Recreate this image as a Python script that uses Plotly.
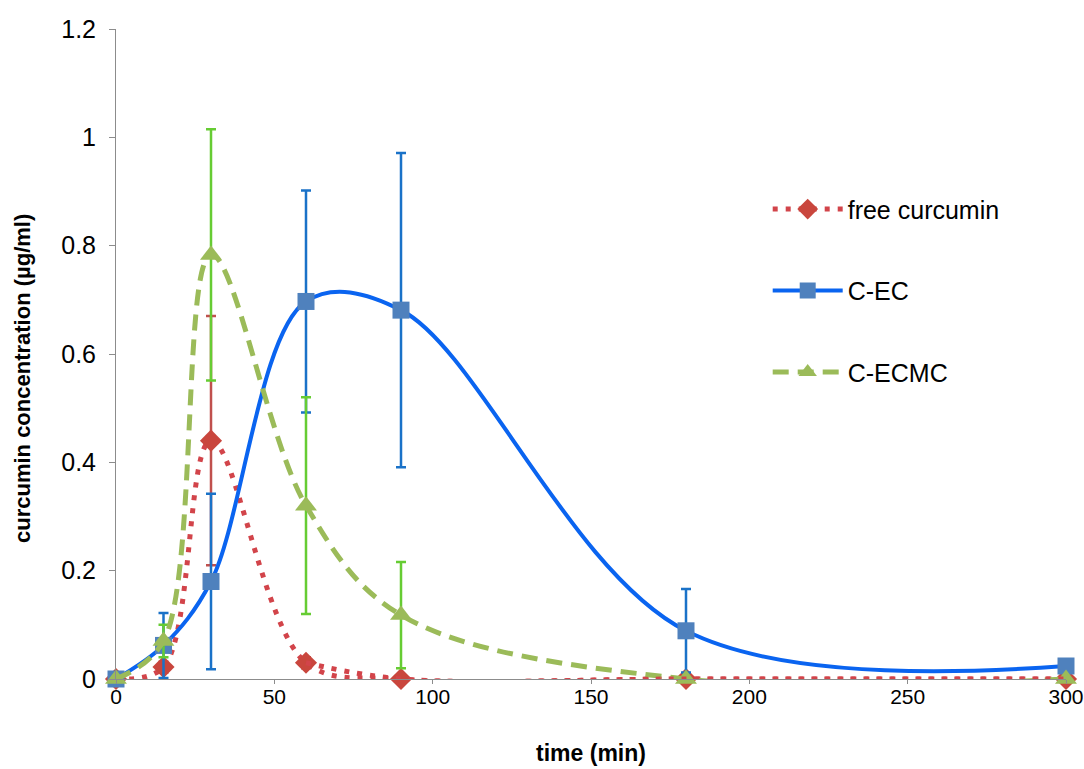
import plotly.graph_objects as go

time_min = [0, 15, 30, 60, 90, 180, 300]

free_curcumin = [0.0, 0.022, 0.44, 0.03, 0.0, 0.0, 0.0]
free_err = [0.0, 0.01, 0.23, 0.01, 0.0, 0.0, 0.0]

c_ec = [0.0, 0.062, 0.18, 0.697, 0.681, 0.089, 0.024]
c_ec_err = [0.0, 0.06, 0.162, 0.205, 0.29, 0.077, 0.005]

c_ecmc = [0.0, 0.07, 0.783, 0.32, 0.118, 0.0, 0.0]
c_ecmc_err = [0.0, 0.03, 0.232, 0.2, 0.098, 0.0, 0.0]

y_ticks = [0, 0.2, 0.4, 0.6, 0.8, 1, 1.2]
y_tick_labels = ["0", "0.2", "0.4", "0.6", "0.8", "1", "1.2"]
x_ticks = [0, 50, 100, 150, 200, 250, 300]

RED_LINE = dict(color="#D2444A", width=5, dash="5px,8px", shape="spline", smoothing=1)

fig = go.Figure()

fig.add_trace(go.Scatter(
    x=time_min, y=free_curcumin, name="free curcumin", mode="lines+markers",
    line=RED_LINE,
    marker=dict(symbol="diamond", size=17, color="#C9463D"),
    error_y=dict(type="data", array=free_err, visible=True, color="#C0504D",
                 thickness=2.5, width=5),
    cliponaxis=False, legendgroup="a",
))
fig.add_trace(go.Scatter(
    x=time_min, y=c_ec, name="C-EC", mode="lines+markers",
    line=dict(color="#0A64F0", width=4, shape="spline", smoothing=1),
    marker=dict(symbol="square", size=17, color="#4F81BD"),
    error_y=dict(type="data", array=c_ec_err, visible=True, color="#1A72C8",
                 thickness=2.5, width=5),
    cliponaxis=False, legendgroup="b",
))
fig.add_trace(go.Scatter(
    x=time_min, y=c_ecmc, name="C-ECMC", mode="lines+markers",
    line=dict(color="#9BBB59", width=5, dash="16px,9px", shape="spline", smoothing=1),
    marker=dict(symbol="triangle-up", size=19, color="#9BBB59"),
    error_y=dict(type="data", array=c_ecmc_err, visible=True, color="#66CC33",
                 thickness=2.5, width=5),
    cliponaxis=False, legendgroup="c",
))
# red dotted line drawn again on top so its dots stay visible along the baseline
fig.add_trace(go.Scatter(
    x=time_min[3:], y=free_curcumin[3:], mode="lines", line=RED_LINE,
    showlegend=False, hoverinfo="skip", cliponaxis=False,
))

tick_family = "Liberation Sans, Arial, sans-serif"

fig.update_layout(
    width=1084, height=769,
    margin=dict(l=116, r=18, t=29, b=90),
    paper_bgcolor="white", plot_bgcolor="white",
    showlegend=True,
    legend=dict(x=0.686, y=0.758, xanchor="left", yanchor="top",
                font=dict(family=tick_family, size=25, color="#000"),
                tracegroupgap=46, itemwidth=70, bgcolor="rgba(0,0,0,0)"),
    xaxis=dict(range=[0, 300], tickvals=x_ticks, ticktext=[str(v) for v in x_ticks],
               showgrid=False, zeroline=False, showline=True, linecolor="#8C8C8C",
               linewidth=1, ticks="outside", ticklen=4, tickcolor="#8C8C8C",
               ticklabeloverflow="allow", ticklabelstandoff=-5, automargin=False,
               tickfont=dict(family=tick_family, size=21, color="#000"),
               title=dict(text="<b>time (min)</b>", standoff=37,
                          font=dict(family=tick_family, size=23, color="#000"))),
    yaxis=dict(range=[0, 1.2], tickvals=y_ticks, ticktext=y_tick_labels,
               showgrid=False, zeroline=False, showline=True, linecolor="#8C8C8C",
               linewidth=1, ticks="outside", ticklen=6, tickcolor="#8C8C8C",
               ticklabelstandoff=8, automargin=False,
               tickfont=dict(family=tick_family, size=25, color="#000")),
    annotations=[dict(
        text="<b>curcumin concentration (µg/ml)</b>", textangle=-90,
        xref="paper", yref="paper", x=-0.099, y=0.463,
        xanchor="center", yanchor="middle", showarrow=False,
        font=dict(family=tick_family, size=22, color="#000"),
    )],
)

fig.write_html("out.html")
